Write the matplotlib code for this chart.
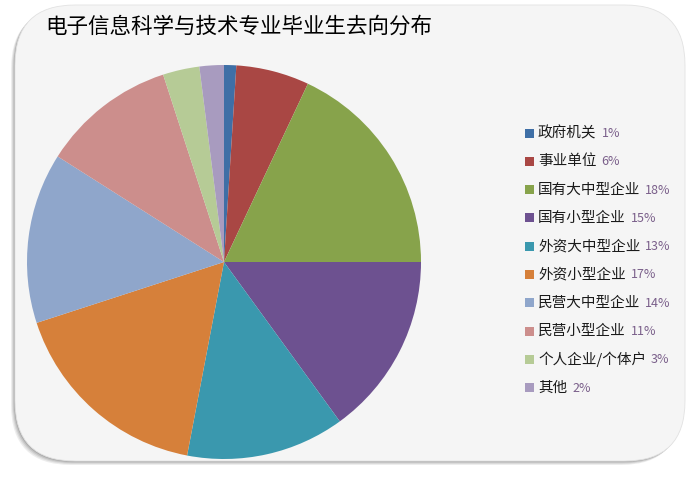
import matplotlib
matplotlib.use("Agg")
import matplotlib.pyplot as plt
from matplotlib.patches import FancyBboxPatch, Rectangle

plt.rcParams['font.family'] = ['Noto Sans CJK SC', 'DejaVu Sans']

# data
title = "电子信息科学与技术专业毕业生去向分布"
labels = ["政府机关", "事业单位", "国有大中型企业", "国有小型企业", "外资大中型企业",
          "外资小型企业", "民营大中型企业", "民营小型企业", "个人企业/个体户", "其他"]
values = [1, 6, 18, 15, 13, 17, 14, 11, 3, 2]
colors = ["#3f6fa6", "#a94744", "#87a34b", "#6d5190", "#3a98ae",
          "#d6803a", "#8fa6cb", "#cc8e8c", "#b6cb96", "#a89bbf"]

W, H = 694, 479
fig = plt.figure(figsize=(W / 100, H / 100), dpi=100)
fig.patch.set_facecolor("white")

# background axes in pixel coordinates
bg = fig.add_axes([0, 0, 1, 1])
bg.set_xlim(0, W)
bg.set_ylim(H, 0)
bg.axis("off")

x0, y0, x1, y1 = 15, 5, 685, 461
# soft shadow (left / bottom)
for i, a in enumerate([0.10, 0.12, 0.16, 0.22]):
    off = 4 - i
    sh = FancyBboxPatch((x0 - off, y0 + off), x1 - x0, y1 - y0,
                        boxstyle="round,pad=0,rounding_size=60",
                        facecolor="#555555", edgecolor="none", alpha=a)
    bg.add_patch(sh)
frame = FancyBboxPatch((x0, y0), x1 - x0, y1 - y0,
                       boxstyle="round,pad=0,rounding_size=60",
                       facecolor="#f5f5f5", edgecolor="#e2e2e2", linewidth=0.6)
bg.add_patch(frame)

bg.text(45, 27, title, fontsize=15.5, color="black", va="center", ha="left",
        fontweight="medium")

# pie
cx, cy, r = 224, 262, 197
ax = fig.add_axes([(cx - r) / W, (H - cy - r) / H, 2 * r / W, 2 * r / H])
ax.pie(values, colors=colors, startangle=90, counterclock=False,
       wedgeprops=dict(linewidth=0))
ax.set_xlim(-1, 1)
ax.set_ylim(-1, 1)
ax.set_aspect("equal")
ax.axis("off")

# legend
ly0, dy = 133, 28.3
for i, (lab, v, c) in enumerate(zip(labels, values, colors)):
    y = ly0 + i * dy
    bg.add_patch(Rectangle((525, y - 4.5), 9, 9, facecolor=c, edgecolor="none"))
    t = bg.text(538, y, lab, fontsize=10.5, color="#1a1a1a", va="center", ha="left",
                fontweight="medium")
    fig.canvas.draw()
    bb = t.get_window_extent()
    xe = bb.x1
    bg.text(xe + 5, y + 0.5, f"{v}%", fontsize=9, color="#7a5f8a",
            va="center", ha="left")

fig.savefig("out.png", dpi=100)
